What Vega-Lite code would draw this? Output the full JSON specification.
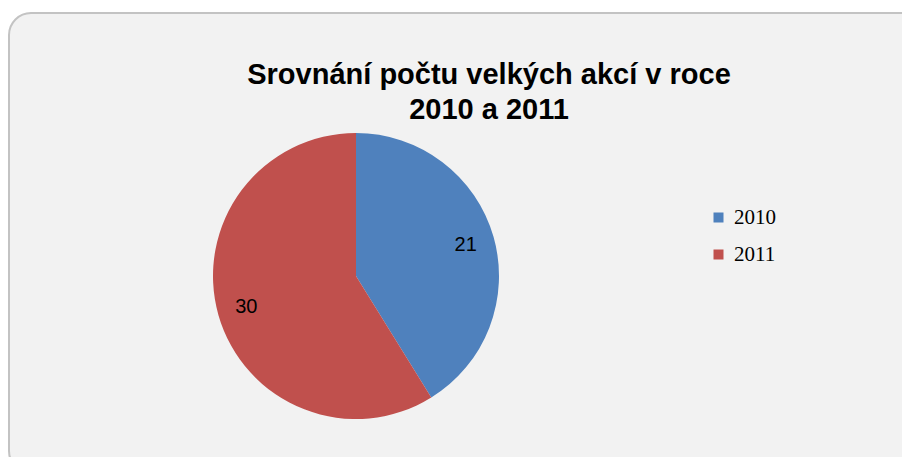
{
  "$schema": "https://vega.github.io/schema/vega-lite/v6.json",
  "autosize": {"type": "none"},
  "padding": {"left": 9, "top": 13, "right": 0, "bottom": 0},
  "width": 960,
  "height": 460,
  "background": "#ffffff",
  "view": {"fill": "#f2f2f2", "stroke": "#c3c3c3", "strokeWidth": 2, "cornerRadius": 22},
  "config": {
    "view": {"fill": "#f2f2f2", "stroke": "#c3c3c3", "strokeWidth": 2, "cornerRadius": 22}
  },
  "title": {
    "text": ["Srovnání počtu velkých akcí v roce", "2010 a 2011"],
    "font": "Liberation Sans",
    "fontSize": 29,
    "fontWeight": "bold",
    "lineHeight": 35,
    "color": "#000000",
    "anchor": "middle",
    "offset": -112
  },
  "data": {
    "values": [
      {"rok": "2010", "pocet": 21},
      {"rok": "2011", "pocet": 30}
    ]
  },
  "encoding": {
    "theta": {"field": "pocet", "type": "quantitative", "stack": true},
    "color": {
      "field": "rok",
      "type": "nominal",
      "scale": {"domain": ["2010", "2011"], "range": ["#4f81bd", "#c0504d"]},
      "legend": {
        "title": null,
        "orient": "none",
        "legendX": 699,
        "legendY": 194,
        "symbolType": "square",
        "symbolSize": 100,
        "symbolStrokeWidth": 0,
        "labelFont": "Liberation Serif",
        "labelFontSize": 21,
        "labelColor": "#000000",
        "labelOffset": 5,
        "rowPadding": 15,
        "padding": 0
      }
    }
  },
  "layer": [
    {"mark": {"type": "arc", "radius": 143, "x": 347, "y": 263, "stroke": null}},
    {
      "mark": {"type": "text", "radius": 114, "x": 347, "y": 263, "font": "Liberation Sans", "fontSize": 20, "color": "#000000"},
      "encoding": {
        "text": {"field": "pocet", "type": "quantitative"},
        "color": {"value": "#000000"}
      }
    }
  ]
}
